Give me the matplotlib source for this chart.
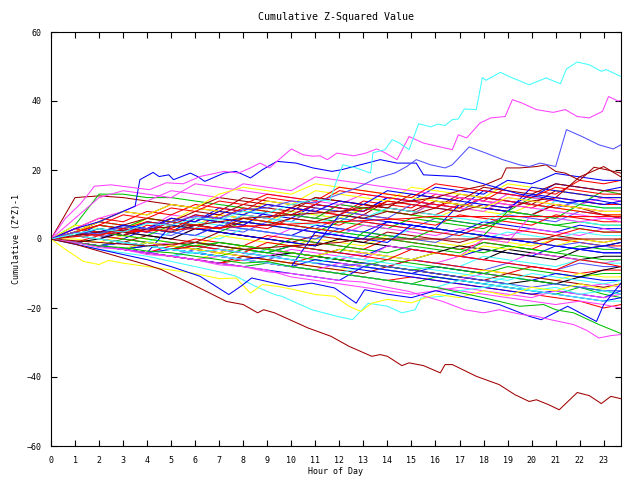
import matplotlib
matplotlib.use('Agg')
import matplotlib.pyplot as plt

RED = '#ff0000'
GREEN = '#00c000'
BLUE = '#0000ff'
MAGENTA = '#ff40ff'
CYAN = '#40ffff'
DARKRED = '#a00000'
YELLOW = '#ffff00'
LBLUE = '#5050ff'
BLACK = '#000000'

# hourly samples for the background walks
HOURS = list(range(24)) + [23.72]

b01 = [0, 3, 2, 1, 5, 4, 3, 7, 6, 5, 9, 8, 7, 11, 10, 9, 13, 12, 11, 15, 14, 13, 17, 16, 17]
b02 = [0, 2, 5, 4, 3, 2, 6, 5, 4, 8, 7, 6, 5, 9, 8, 7, 11, 10, 9, 8, 12, 11, 10, 14, 13]
b03 = [0, 1, 4, 3, 2, 6, 5, 9, 8, 7, 6, 10, 9, 8, 12, 11, 10, 9, 14, 13, 12, 16, 15, 14, 15]
b04 = [0, 2, 1, 4, 3, 7, 6, 5, 4, 8, 7, 6, 10, 9, 8, 7, 11, 10, 9, 13, 12, 11, 10, 12, 11]
b05 = [0, 1, 3, 2, 5, 4, 3, 6, 5, 4, 8, 7, 6, 5, 9, 8, 7, 10, 9, 8, 7, 11, 10, 9, 9]
b06 = [0, 12, 12.5, 12, 11, 10, 9, 8, 12, 11, 10, 9, 8, 7, 11, 10, 9, 13, 12, 11, 10, 14, 13, 12, 12]
b07 = [0, 2, 4, 3, 6, 5, 4, 7, 6, 5, 8, 7, 6, 9, 8, 7, 6, 9, 8, 7, 10, 9, 8, 7, 7]
b08 = [0, 1, 0, 3, 2, 1, 4, 3, 2, 5, 4, 3, 6, 5, 4, 3, 6, 5, 4, 7, 6, 5, 8, 7, 6]
b09 = [0, 3, 2, 1, 4, 3, 6, 5, 4, 3, 6, 5, 4, 7, 6, 5, 4, 7, 6, 5, 4, 7, 6, 5, 5]
b10 = [0, 1, 3, 2, 1, 4, 3, 2, 5, 4, 3, 2, 5, 4, 3, 6, 5, 4, 3, 6, 5, 4, 5, 4, 4]
b11 = [0, 2, 1, 0, 3, 2, 1, 4, 3, 2, 1, 4, 3, 2, 5, 4, 3, 2, 5, 4, 3, 2, 4, 3, 3]
b12 = [0, 1, 0, 2, 1, 0, 3, 2, 1, 0, 3, 2, 1, 4, 3, 2, 1, 3, 2, 1, 3, 2, 1, 3, 2]
b13 = [0, 2, 1, 0, -1, 2, 1, 0, 3, 2, 1, 0, 2, 1, 0, 3, 2, 1, 0, 2, 1, 0, 2, 1, 1]
b14 = [0, 1, 0, -1, 1, 0, -1, 2, 1, 0, -1, 1, 0, -1, 2, 1, 0, -1, 1, 0, -1, 1, 0, -1, 0]
b15 = [0, 0, -1, 1, 0, -1, -2, 1, 0, -1, -2, 0, -1, -2, 1, 0, -1, -2, 0, -1, -2, 0, -1, -2, -1]
b16 = [0, -1, 1, 0, -1, -2, 0, -1, -2, 1, 0, -1, -2, -3, 0, -1, -2, -3, -1, -2, -3, 0, -1, -2, -2]
b17 = [0, -1, -2, 0, -1, -2, -3, -1, -2, -3, 0, -1, -2, -3, -4, -2, -3, -4, -1, -2, -3, -4, -2, -3, -3]
b18 = [0, -1, -2, -1, -2, -3, -1, -2, -3, -4, -2, -3, -4, -5, -2, -3, -4, -5, -3, -4, -5, -2, -3, -4, -4]
b19 = [0, -1, -2, -3, -1, -2, -3, -4, -2, -3, -4, -5, -3, -4, -5, -6, -4, -5, -6, -3, -4, -5, -6, -5, -5]
b20 = [0, -1, -2, -3, -4, -2, -3, -4, -5, -3, -4, -5, -6, -4, -5, -6, -7, -5, -6, -7, -4, -5, -6, -7, -6]
b21 = [0, -1, -2, -3, -1, -2, -3, -4, -5, -3, -4, -5, -6, -7, -5, -6, -7, -8, -5, -6, -7, -8, -6, -7, -7]
b22 = [0, -1, -2, -3, -4, -5, -3, -4, -5, -6, -4, -5, -6, -7, -8, -6, -7, -8, -9, -7, -8, -9, -7, -8, -8]
b23 = [0, -1, -2, -3, -4, -2, -3, -4, -5, -6, -7, -5, -6, -7, -8, -6, -7, -8, -9, -10, -8, -9, -10, -9, -9]
b24 = [0, -1, -2, -1, -2, -3, -4, -5, -3, -4, -5, -6, -7, -8, -6, -7, -8, -9, -10, -8, -9, -10, -11, -10, -10]
b25 = [0, -1, -2, -3, -4, -5, -6, -4, -5, -6, -7, -8, -9, -7, -8, -9, -10, -11, -9, -10, -11, -12, -10, -11, -11]
b26 = [0, -1, -2, -3, -4, -3, -4, -5, -6, -7, -8, -6, -7, -8, -9, -10, -8, -9, -10, -11, -12, -10, -11, -12, -12]
b27 = [0, -1, -2, -3, -4, -5, -6, -7, -5, -6, -7, -8, -9, -10, -8, -9, -10, -11, -12, -10, -11, -12, -13, -14, -13]
b28 = [0, -1, -2, -3, -2, -3, -4, -5, -6, -7, -8, -9, -7, -8, -9, -10, -11, -12, -10, -11, -12, -13, -14, -13, -14]
b29 = [0, -1, -2, -3, -4, -5, -4, -5, -6, -7, -8, -9, -10, -8, -9, -10, -11, -12, -13, -11, -12, -13, -14, -15, -15]
b30 = [0, -1, -2, -3, -4, -5, -6, -7, -8, -7, -8, -9, -10, -11, -12, -13, -11, -12, -13, -14, -15, -16, -14, -16, -17]
b31 = [0, -1, -2, -3, -4, -5, -6, -7, -6, -7, -8, -9, -10, -11, -12, -11, -12, -13, -14, -15, -16, -17, -18, -20, -19]
b32 = [0, 2, 1, 4, 3, 2, 6, 5, 4, 8, 7, 10, 9, 8, 12, 11, 15, 14, 13, 17, 16, 19, 18, 17, 17]
b33 = [0, 1, 0, 3, 2, 5, 4, 3, 7, 6, 5, 9, 8, 7, 6, 10, 9, 8, 12, 11, 10, 9, 11, 10, 10]
b34 = [0, 2, 5, 4, 3, 6, 5, 8, 7, 6, 9, 8, 7, 10, 9, 8, 7, 10, 9, 8, 7, 10, 9, 8, 8]
b35 = [0, 4, 13, 13, 12, 12, 11, 10, 9, 8, 7, 6, 10, 9, 8, 7, 6, 5, 4, 6, 5, 4, 3, 2, 2]
b36 = [0, 6, 12, 14, 13, 12, 16, 15, 14, 13, 12, 11, 10, 13, 12, 11, 10, 9, 8, 12, 11, 10, 9, 8, 8]
b37 = [0, 4, 3, 2, 6, 5, 9, 8, 7, 11, 10, 14, 13, 12, 11, 15, 14, 13, 12, 16, 15, 14, 13, 12, 12]
b38 = [0, -1, 0, -1, -2, -3, -2, -3, -4, -5, -4, -5, -6, -7, -8, -9, -10, -11, -12, -13, -12, -13, -11, -9, -8]
b39 = [0, 1, 0, 2, 1, 0, 3, 2, 1, 0, -1, -2, 0, -1, -2, -3, -4, -2, -3, -4, -5, -6, -3, -2, -1]
b40 = [0, 2, 5, 8, 7, 10, 9, 12, 11, 10, 9, 12, 11, 10, 9, 8, 11, 10, 9, 8, 7, 10, 9, 7, 6]
b41 = [0, 2, 1, 4, 3, 2, 5, 4, 7, 6, 5, 4, 7, 6, 9, 8, 7, 6, 5, 8, 7, 6, 5, 4, 4]
b42 = [0, 1, 2, 1, 3, 2, 1, 4, 3, 2, 1, 0, 3, 2, 1, 0, -1, 2, 1, 0, -1, -2, -1, -2, -3]
b43 = [0, 3, 6, 5, 8, 7, 10, 9, 8, 12, 11, 10, 14, 13, 12, 11, 10, 9, 12, 11, 10, 9, 8, 7, 7]
b44 = [0, 2, 4, 3, 6, 5, 4, 3, 6, 5, 4, 3, 2, 1, 0, -1, -2, -3, -4, -2, -3, -4, -5, -6, -6]
b45 = [0, -1, -2, -3, -4, 4, 3, 2, 1, 0, -1, -2, 7, 6, 5, 4, 3, 2, 1, 0, -1, -2, -3, -2, -1]
b46 = [0, 1, 0, -1, -2, -1, -2, -3, -4, -5, -3, -4, -5, -6, -2, -3, -4, -5, 0, -1, 7, 6, 5, 6, 5]
b47 = [0, 1, 2, 4, 6, 5, 8, 7, 10, 9, 8, 12, 11, 10, 9, 13, 12, 11, 15, 14, 13, 16, 15, 14, 14]
b48 = [0, -1, -2, -1, -2, -3, -4, -5, -6, -7, -8, 2, 1, 0, 5, 4, 3, 10, 9, 8, 15, 14, 13, 12, 12]
b49 = [0, -1, -2, -3, -1, -2, -3, -4, -2, -3, -4, -5, -3, -4, -5, -6, -4, -5, -2, -3, -1, -2, 0, -1, 0]
b50 = [0, -1, -2, -3, -2, -3, -1, -2, -3, -4, -2, -3, -4, 2, 1, 0, 3, 2, 1, 8, 7, 6, 10, 9, 9]
b51 = [0, 1, 2, 1, 3, 2, 4, 3, 5, 4, 6, 5, 7, 6, 8, 7, 9, 8, 10, 9, 11, 12, 18, 21, 18]
b52 = [0, 2, 4, 3, 2, 5, 4, 3, 6, 5, 4, 3, 2, 5, 4, 3, 2, 1, 4, 3, 2, 1, 3, 2, 2]
b53 = [0, 1, 3, 2, 5, 4, 7, 6, 5, 4, 3, 2, 1, 0, -1, 4, 3, 2, 1, 0, -1, -2, -3, -4, -4]
b54 = [0, 1, 0, -1, -2, -3, -2, -3, -4, -1, -2, -3, -4, -5, -6, -3, -4, -5, -6, -7, -8, -9, -6, -7, -8]
b55 = [0, -1, -2, -3, -2, -3, -4, -5, -6, -5, -6, -7, -8, -9, -10, -11, -12, -13, -14, -15, -16, -15, -16, -17, -15]
b56 = [0, 1, 2, 1, 0, -1, -2, -1, -2, -3, -4, -5, -6, -7, -8, -9, -8, -9, -10, -11, -12, -13, -14, -15, -16]
b57 = [0, -1, -2, -1, -2, -3, -4, -3, -4, -5, -6, -7, -8, -7, -8, -9, -10, -11, -12, -13, -14, -13, -14, -15, -15]
b58 = [0, 2, 1, 3, 5, 4, 7, 6, 9, 8, 7, 10, 9, 8, 11, 10, 9, 12, 11, 10, 9, 12, 11, 10, 10]
b59 = [0, 1, 2, 4, 3, 6, 5, 8, 7, 10, 9, 8, 11, 10, 14, 13, 12, 11, 10, 9, 13, 12, 11, 10, 11]
b60 = [0, -1, -2, -3, -4, -5, -6, -5, -6, -7, -8, -9, -10, -11, -12, -13, -14, -15, -16, -17, -18, -19, -18, -19, -20]
b61 = [0, 1, 0, -1, -2, -3, -4, -3, -4, -5, -6, -7, -5, -6, -7, -8, -9, -10, -11, -12, -10, -11, -12, -13, -12]
b62 = [0, 3, 6, 8, 11, 14, 13, 12, 16, 15, 14, 18, 17, 16, 15, 14, 13, 12, 11, 10, 9, 8, 7, 6, 6]
b63 = [0, 2, 5, 8, 7, 10, 9, 13, 15, 14, 13, 16, 15, 14, 13, 12, 11, 10, 9, 12, 11, 10, 9, 8, 8]
b64 = [0, 2, 4, 7, 6, 9, 8, 11, 10, 13, 12, 11, 15, 14, 13, 12, 16, 15, 14, 13, 12, 15, 14, 13, 13]
b65 = [0, -1, -2, -3, -4, -5, -6, -7, -8, -9, -10, -11, -12, -8, -9, -10, -11, -12, -13, -14, -15, -16, -17, -18, -17]
b66 = [0, -1, -2, -3, -4, -5, -6, -7, -8, -9, -11, -12, -13, -14, -15, -16, -15, -14, -15, -16, -17, -15, -16, -17, -16]
b67 = [0, 1, 0, -1, -2, -3, -4, -5, -6, -7, -8, -9, -10, -11, -12, -13, -14, -12, -13, -14, -15, -16, -17, -18, -18]

# walks read at their own sample hours
flat_dr_h = [0, 2, 4, 6, 8, 10, 12, 12.9, 23.72]
flat_dr_v = [0, -1, -2, -1, -3, -2, -1, 0, 0]
flat_r_h = [0, 3, 6, 9, 12, 15, 15.7, 23.72]
flat_r_v = [0, 2, 3, 4, 5, 6, 6.5, 6.5]

cyan_top_h = [0, 1, 2, 3, 4, 5, 6, 7, 8, 9, 10, 11, 11.6, 11.9, 12.15, 12.7, 13.3, 13.4, 13.9,
              14.2, 14.5, 14.9, 15.3, 15.8, 16.1, 16.4, 16.7, 16.95, 17.2, 17.7, 17.95, 18.1,
              18.7, 19.2, 19.9, 20.6, 21.2, 21.45, 21.9, 22.4, 22.9, 23.1, 23.72]
cyan_top_v = [0, 1.5, 3, 2, 4.5, 4, 6, 5.5, 8, 7.5, 10, 11.5, 11, 17.2, 21.5, 20.6, 19.1, 25, 25.9,
              28.8, 27.8, 25.9, 33.4, 32.5, 33.3, 32.9, 34.6, 34.8, 37.7, 37.5, 46.8, 46,
              48.3, 46.7, 44.7, 46.7, 45, 49.3, 51.3, 50.5, 48.6, 49.1, 47.1]

mag_top_h = [0, 0.6, 1.2, 1.6, 1.8, 2.5, 3.4, 4.1, 4.8, 5.5, 6.2, 7.2, 7.8, 8.3, 8.7, 9.1, 9.4,
             10.0, 10.5, 10.9, 11.2, 11.5, 11.9, 12.6, 13.1, 13.55, 13.9, 14.4, 14.9, 15.5,
             16.0, 16.7, 16.95, 17.3, 17.85, 18.3, 18.9, 19.2, 19.6, 20.2, 20.9, 21.4, 21.9,
             22.4, 22.95, 23.2, 23.6, 23.72]
mag_top_v = [0, 6, 10, 13.4, 15.3, 15.7, 14.9, 14.3, 16.3, 16, 18.1, 19.6, 19.1, 20.6, 22, 20.6, 22.5,
             26.1, 24.4, 24, 24.1, 23, 24.9, 24.1, 24.9, 26.1, 25, 23, 29.7, 27.8,
             27, 25.9, 30.2, 29.3, 33.6, 35.1, 35.5, 40.4, 39.4, 37.5, 36.7, 37.5, 35.5,
             35.1, 37, 41.3, 40, 40.2]

lblue_top_h = [0, 1, 2, 3, 4, 5, 6, 7, 8, 9, 10, 11, 12, 12.8, 13.5, 14.3, 14.8, 15.2, 15.8,
               16.4, 16.7, 17.4, 18.1, 18.8, 19.5, 19.9, 20.35, 21.0, 21.45, 22.1, 22.8, 23.4, 23.72]
lblue_top_v = [0, 2, 1.5, 3.5, 3, 5, 6.5, 6, 8.5, 9, 11, 10.5, 13, 15, 17.5, 19.1, 21, 23, 21.5,
               20.6, 21.5, 26.7, 24.9, 23, 21.5, 21, 22, 21, 31.7, 29.7, 27.3, 26.1, 27.3]

blue_early_h = [0, 1, 2, 3, 3.5, 3.7, 4.25, 4.5, 4.9, 5.1, 5.8, 6.1, 6.4, 7.2, 7.7, 8.3, 8.8,
                9.4, 10.2, 10.9, 11.7, 12.1, 13.7, 14.4, 15.2, 15.5, 16.9, 17.5, 18.5, 19.5,
                20.5, 21.5, 22.5, 23.72]
blue_early_v = [0, 3, 5, 8, 9.5, 17.2, 19.3, 18.1, 18.6, 17.2, 19.1, 18.1, 16.7, 19.1, 19.6, 17.7, 20.1,
                22.5, 22, 20.6, 19.6, 20.1, 23, 22, 22, 18.6, 18.1, 17, 15, 13,
                12, 10.5, 11.5, 10]

dr_top_h = [0, 2, 4, 6, 8, 10, 12, 14, 16, 17, 18, 18.75, 18.95, 19.5, 20.2, 20.6, 21, 21.4,
            22, 22.6, 23.1, 23.72]
dr_top_v = [0, 2, 3, 4, 6, 7, 8, 10, 12, 14, 15.5, 17.7, 20.6, 20.6, 21, 21.5, 19.6, 19.1,
            17, 20.8, 20.1, 19.1]

dr_bottom_h = [0, 1, 2, 3, 4, 4.6, 5.9, 7.3, 8.0, 8.6, 8.85, 9.3, 10.7, 11.65, 12.4, 13.35, 13.7,
               14.0, 14.6, 14.9, 15.5, 16.2, 16.4, 16.7, 17.7, 18.65, 19.3, 19.9, 20.2, 20.7,
               21.15, 21.9, 22.4, 22.9, 23.3, 23.72]
dr_bottom_v = [0, -1.5, -3.5, -5.5, -7.5, -8.9, -13.2, -18.1, -19, -21.4, -20.5, -21.4, -25.8, -28.2,
               -31.1, -34, -33.5, -34, -36.7, -35.9, -36.7, -38.8, -36.4, -36.4, -39.8, -42.2,
               -45.1, -47.1, -46.6, -48, -49.5, -44.5, -45.4, -47.7, -45.6, -46.3]

mag_low_h = [0, 1, 2, 3, 4, 5, 6, 7, 8, 9, 10, 11, 12, 13, 14, 14.9, 15.5, 16.3, 17.2, 18.0,
             18.65, 19.6, 20.2, 20.8, 21.75, 22.3, 22.8, 23.3, 23.72]
mag_low_v = [0, -1, -2.5, -3, -4.5, -5, -6, -7.5, -8, -9.5, -10, -11, -12, -12.5, -14, -15.2, -16.5,
             -18.1, -20.5, -21.4, -20.5, -21.9, -22.4, -23.4, -24.8, -26.5, -28.7, -28, -27.7]

green_low_h = HOURS[:19] + [19.5, 20.5, 21, 21.75, 22.8, 23.72]
green_low_v = [0, -1, -2, -2.5, -3.5, -4, -5, -6, -7, -6.5, -8, -9, -10, -11, -12, -13, -14, -15.5,
               -17, -19.5, -19, -20.5, -21.4, -24.8, -27.4]

cyan_low_h = [0, 1, 2, 3, 4, 5, 6, 7, 7.7, 8.5, 9.3, 9.6, 10.85, 11.9, 12.55, 13.2, 14.0, 14.6,
              15.15, 15.4, 16.3, 17, 18, 19, 20, 21, 22, 23, 23.72]
cyan_low_v = [0, -1.5, -3, -4, -5, -6.5, -8, -9.5, -10.8, -13.7, -16.1, -16.6, -20.5, -22.4, -23.4,
              -18.6, -19.5, -21.4, -20.5, -17.1, -16.6, -15, -14, -13, -15, -14, -16, -15, -16]

yellow_low_h = [0, 0.6, 1.35, 2, 2.4, 3, 4, 5, 6, 7, 7.7, 8.3, 8.8, 9.4, 10, 11, 11.8, 12.4,
                12.9, 13.35, 14, 15, 16, 17, 18, 19, 20, 21, 22, 23, 23.72]
yellow_low_v = [0, -3, -6.5, -7.4, -6.2, -7, -8, -9, -10, -11.5, -11.3, -15.7, -13.2, -13.7, -14.5,
                -16.1, -16.6, -19.5, -21, -18.6, -17.5, -18.5, -16, -17, -15, -16.5, -14, -15, -13,
                -14.5, -13]

blue_low_h = [0, 1, 2, 3, 4, 5, 6.2, 7.4, 7.9, 8.35, 9.3, 9.9, 10.85, 11.8, 12.7, 13.05, 14, 15,
              16, 17, 18, 18.65, 19.9, 20.4, 21.5, 22.7, 23, 23.5, 23.72]
blue_low_v = [0, -1.5, -3, -4.5, -6, -8, -10.8, -16.1, -13.7, -11.3, -12.8, -13.7, -12.8, -14.2,
              -18.6, -14.7, -16, -17, -15, -16.5, -18, -19, -22.4, -23.4, -19.5, -23.9, -19,
              -14.7, -12.8]

background = [
    (b01, RED), (b02, GREEN), (b03, BLUE), (b04, MAGENTA), (b05, CYAN), (b06, DARKRED),
    (b07, YELLOW), (b08, LBLUE), (b09, RED), (b10, GREEN), (b11, BLUE), (b12, MAGENTA),
    (b13, CYAN), (b14, DARKRED), (b15, YELLOW), (b16, RED), (b17, GREEN), (b18, BLUE),
    (b19, BLACK), (b20, MAGENTA), (b21, CYAN), (b22, LBLUE), (b23, RED), (b24, GREEN),
    (b25, YELLOW), (b26, BLUE), (b27, DARKRED), (b28, MAGENTA), (b29, CYAN), (b30, GREEN),
    (b31, RED), (b32, BLUE), (b33, LBLUE), (b34, RED), (b35, GREEN), (b36, MAGENTA),
    (b37, YELLOW), (b38, BLACK), (b39, BLACK), (b40, DARKRED), (b41, CYAN), (b42, LBLUE),
    (b43, RED), (b44, GREEN), (b45, BLUE), (b46, MAGENTA), (b47, DARKRED), (b48, BLUE),
    (b49, YELLOW), (b50, GREEN), (b51, DARKRED), (b52, RED), (b53, BLUE), (b54, RED),
    (b55, BLUE), (b56, GREEN), (b57, LBLUE), (b58, RED), (b59, BLUE), (b60, MAGENTA),
    (b61, CYAN), (b62, MAGENTA), (b63, YELLOW), (b64, RED), (b65, BLUE), (b66, MAGENTA),
    (b67, CYAN),
]

walks = [
    (flat_dr_h, flat_dr_v, DARKRED), (flat_r_h, flat_r_v, RED),
    (cyan_low_h, cyan_low_v, CYAN), (yellow_low_h, yellow_low_v, YELLOW),
    (blue_low_h, blue_low_v, BLUE), (green_low_h, green_low_v, GREEN),
    (mag_low_h, mag_low_v, MAGENTA), (dr_top_h, dr_top_v, DARKRED),
    (blue_early_h, blue_early_v, BLUE), (lblue_top_h, lblue_top_v, LBLUE),
    (mag_top_h, mag_top_v, MAGENTA), (cyan_top_h, cyan_top_v, CYAN),
    (dr_bottom_h, dr_bottom_v, DARKRED),
]

plt.rcParams['font.family'] = 'DejaVu Sans Mono'
plt.rcParams['font.size'] = 6

fig = plt.figure(figsize=(6.4, 4.8), dpi=100)
ax = fig.add_axes([51 / 640, 1 - 446 / 480, 570 / 640, 414 / 480])

for vals, col in background:
    ax.plot(HOURS, vals, color=col, lw=0.75)
for xs, ys, col in walks:
    ax.plot(xs, ys, color=col, lw=0.75)

ax.set_xlim(0, 23.72)
ax.set_ylim(-60, 60)
ax.set_xticks(range(24))
ax.set_yticks(range(-60, 61, 20))
ax.tick_params(direction='in', top=True, right=True, length=4, width=0.8, pad=7, colors='black')
for s in ax.spines.values():
    s.set_linewidth(0.8)

ax.set_title('Cumulative Z-Squared Value', pad=9)
ax.set_xlabel('Hour of Day', labelpad=2)
ax.set_ylabel('Cumulative (Z*Z)-1', labelpad=4)

fig.savefig('out.png', dpi=100)
